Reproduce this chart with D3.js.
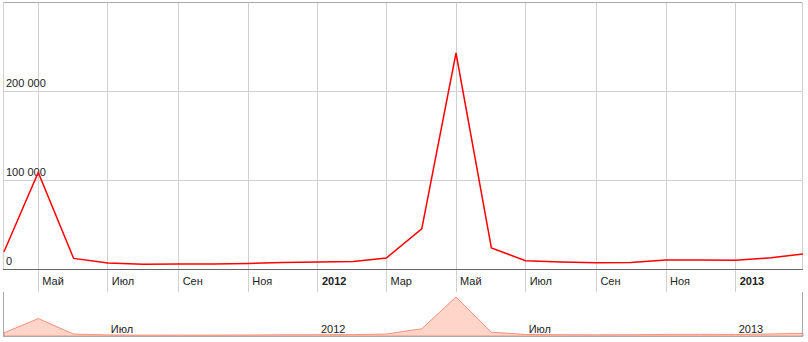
<!DOCTYPE html>
<html>
<head>
	<meta charset="utf-8">
	<title> timeline </title>
	<script src="https://d3js.org/d3.v7.min.js"></script>
	<style>
		body { margin: 0; background: white; }
		svg text { font-family: Arial, "Liberation Sans", sans-serif; font-size: 11px; fill: #222; }
	</style>
</head>
<body>
	<svg id="chart"></svg>
	<script type="text/javascript">

		// monthly values, Apr 2011 .. Mar 2013
		const months = ["2011-04-01","2011-05-01","2011-06-01","2011-07-01","2011-08-01","2011-09-01",
			"2011-10-01","2011-11-01","2011-12-01","2012-01-01","2012-02-01","2012-03-01",
			"2012-04-01","2012-05-01","2012-06-01","2012-07-01","2012-08-01","2012-09-01",
			"2012-10-01","2012-11-01","2012-12-01","2013-01-01","2013-02-01","2013-03-01"];
		const values = [19400, 108600, 11900, 6700, 5200, 5600,
			5600, 6300, 7400, 7900, 8500, 12400,
			45000, 242700, 23600, 9300, 7900, 7100,
			7400, 10100, 10100, 9700, 12700, 16900];

		// axis ticks
		const tickDates = ["2011-05-01","2011-07-01","2011-09-01","2011-11-01","2012-01-01","2012-03-01",
			"2012-05-01","2012-07-01","2012-09-01","2012-11-01","2013-01-01"];
		const tickLabels = ["Май","Июл","Сен","Ноя","2012","Мар","Май","Июл","Сен","Ноя","2013"];
		const navTickDates = ["2011-07-01","2012-01-01","2012-07-01","2013-01-01"];
		const navTickLabels = ["Июл","2012","Июл","2013"];
		const yTicks = [0, 100000, 200000];

		const w = 808, h = 342;
		const left = 4, right = 803;
		const top_y = 2, base_y = 269;
		const nav_top = 297, nav_base = 336;

		const parse = d3.utcParse("%Y-%m-%d");
		const data = months.map((m, i) => ({ date: parse(m), value: values[i] }));

		const svg = d3.select("#chart").attr("width", w).attr("height", h);

		const x = d3.scaleUtc().domain([parse(months[0]), parse(months[months.length - 1])]).range([left, right]);
		const y = d3.scaleLinear().domain([0, 300000]).range([base_y, top_y]);
		const yNav = d3.scaleLinear().domain([0, d3.max(values)]).range([nav_base, nav_top]);

		const px = v => Math.floor(v) + 0.5;

		// horizontal gridlines
		svg.append("g").selectAll("line").data(yTicks.slice(1)).join("line")
			.attr("x1", left - 1).attr("x2", right)
			.attr("y1", d => px(y(d))).attr("y2", d => px(y(d)))
			.style("stroke", "#d0d0d0");

		// vertical gridlines, through the label strip
		svg.append("g").selectAll("line").data(tickDates).join("line")
			.attr("x1", d => px(x(parse(d)))).attr("x2", d => px(x(parse(d))))
			.attr("y1", top_y).attr("y2", 292)
			.style("stroke", "#d0d0d0");

		// plot borders
		svg.append("line").attr("x1", left - 1).attr("x2", right).attr("y1", top_y + 0.5).attr("y2", top_y + 0.5).style("stroke", "#aaa");
		svg.append("line").attr("x1", 3.5).attr("x2", 3.5).attr("y1", top_y).attr("y2", base_y).style("stroke", "#d0d0d0");
		svg.append("line").attr("x1", 802.5).attr("x2", 802.5).attr("y1", top_y).attr("y2", base_y).style("stroke", "#d0d0d0");

		// y labels sit above their gridline
		svg.append("g").selectAll("text").data(yTicks).join("text")
			.attr("x", 6).attr("y", d => y(d) - 4)
			.text(d => d3.format(",")(d).replace(/,/g, " "));

		// main line
		svg.append("path").datum(data)
			.attr("d", d3.line().x(d => x(d.date)).y(d => y(d.value)))
			.style("fill", "none").style("stroke", "#ff0000").style("stroke-width", 1.5);

		// x axis line
		svg.append("line").attr("x1", left - 1).attr("x2", right).attr("y1", base_y + 0.5).attr("y2", base_y + 0.5).style("stroke", "#666");

		// x labels
		svg.append("g").selectAll("text").data(tickDates).join("text")
			.attr("x", d => x(parse(d)) + 4).attr("y", 285)
			.style("font-weight", (d, i) => /^\d+$/.test(tickLabels[i]) ? "bold" : "normal")
			.text((d, i) => tickLabels[i]);

		// navigator
		svg.append("path").datum(data)
			.attr("d", d3.area().x(d => x(d.date)).y0(nav_base).y1(d => yNav(d.value)))
			.style("fill", "#ffd5ca").style("stroke", "#f7917a").style("stroke-width", 1);

		svg.append("g").selectAll("text").data(navTickDates).join("text")
			.attr("x", d => x(parse(d)) + 3).attr("y", 333)
			.text((d, i) => navTickLabels[i]);

		svg.append("line").attr("x1", 3).attr("x2", 803).attr("y1", nav_base + 0.5).attr("y2", nav_base + 0.5).style("stroke", "#aaa");
		svg.append("line").attr("x1", 3.5).attr("x2", 3.5).attr("y1", 292).attr("y2", nav_base + 1).style("stroke", "#aaa");
		svg.append("line").attr("x1", 802.5).attr("x2", 802.5).attr("y1", 292).attr("y2", nav_base + 1).style("stroke", "#aaa");

	</script>
</body>
</html>
